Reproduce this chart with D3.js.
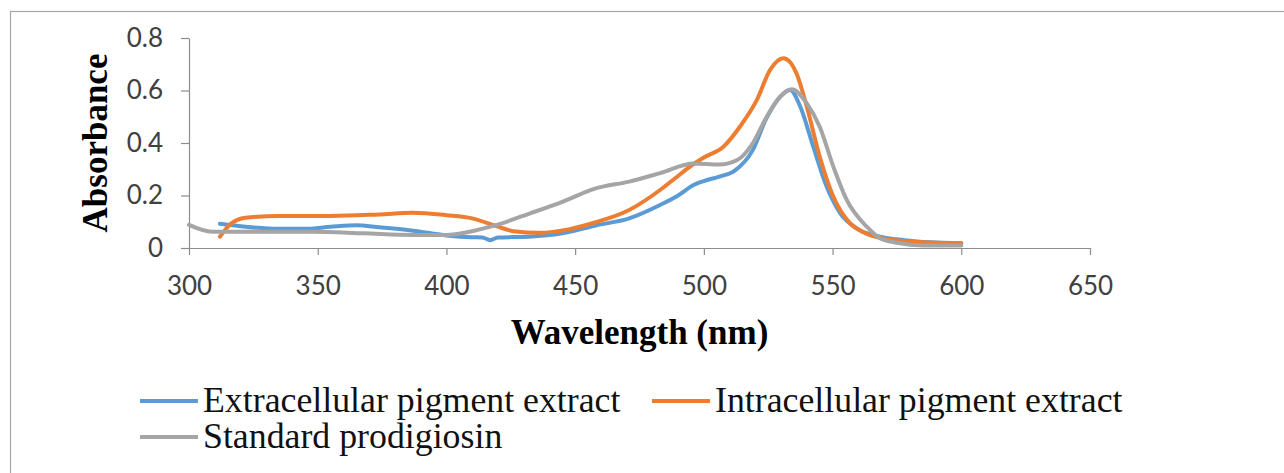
<!DOCTYPE html>
<html>
<head>
<meta charset="utf-8">
<script src="https://cdn.jsdelivr.net/npm/d3@7"></script>
<style>
  html, body { margin: 0; padding: 0; background: #fff; }
  svg { display: block; }
</style>
</head>
<body>
<svg id="chart"></svg>
<script>
/* -----------------------------------------------------------
   DATA
----------------------------------------------------------- */
const xTicks = [300, 350, 400, 450, 500, 550, 600, 650];
const yTicks = [0, 0.2, 0.4, 0.6, 0.8];

const extWl = [312, 322, 335, 345, 355, 365, 374, 387, 400, 410, 414, 417, 420, 432, 445, 458, 471, 483, 490, 496, 500, 506, 512, 519, 524, 529.6, 533.5, 537.4, 542.5, 547.7, 553, 559.4, 568.4, 578, 588, 600];
const extAbs = [0.092, 0.081, 0.073, 0.073, 0.081, 0.087, 0.079, 0.066, 0.048, 0.041, 0.040, 0.030, 0.040, 0.043, 0.056, 0.086, 0.113, 0.164, 0.2, 0.24, 0.255, 0.272, 0.295, 0.373, 0.488, 0.576, 0.602, 0.54, 0.386, 0.234, 0.132, 0.075, 0.043, 0.03, 0.022, 0.018];

const intWl = [312, 316, 322, 335, 355, 374, 387, 400, 410, 419.5, 426, 436, 448, 458, 471, 483, 488, 496, 500, 507.6, 514, 520.6, 525.7, 530.9, 536, 540, 545, 550.3, 556.8, 562, 570, 580, 590, 600];
const intAbs = [0.043, 0.09, 0.115, 0.122, 0.122, 0.128, 0.134, 0.125, 0.113, 0.083, 0.064, 0.058, 0.072, 0.098, 0.145, 0.221, 0.259, 0.32, 0.345, 0.386, 0.462, 0.564, 0.678, 0.723, 0.665, 0.538, 0.348, 0.195, 0.094, 0.06, 0.035, 0.025, 0.02, 0.018];

const stdWl = [300, 309, 322, 348, 368, 387, 400, 409, 419.5, 432.5, 445, 458, 471, 483, 496, 506, 513, 519, 524.4, 529.6, 534.1, 540, 545, 550.3, 555.5, 563.3, 568.4, 575, 585, 600];
const stdAbs = [0.088, 0.062, 0.062, 0.062, 0.056, 0.05, 0.05, 0.062, 0.088, 0.132, 0.176, 0.227, 0.253, 0.285, 0.322, 0.318, 0.335, 0.399, 0.5, 0.576, 0.605, 0.551, 0.462, 0.31, 0.183, 0.081, 0.037, 0.02, 0.01, 0.01];

const seriesNames = ["Extracellular pigment extract", "Intracellular pigment extract", "Standard prodigiosin"];
const seriesColors = ["#5B9BD5", "#ED7D31", "#A5A5A5"];

/* -----------------------------------------------------------
   SETUP
----------------------------------------------------------- */
const W = 1284, H = 473;
const plot = { left: 189, right: 1090, top: 38, bottom: 248 };

const svg = d3.select("#chart").attr("width", W).attr("height", H);

svg.append("rect")
  .attr("x", 10.5).attr("y", 11.5)
  .attr("width", W + 20).attr("height", H + 20)
  .attr("fill", "#fff")
  .attr("stroke", "#a6a6a6")
  .attr("stroke-width", 1.2);

const x = d3.scaleLinear().domain([300, 650]).range([plot.left, plot.right]);
const y = d3.scaleLinear().domain([0, 0.8]).range([plot.bottom, plot.top]);

const tickFont = "Lato, 'Open Sans', sans-serif";
const serif = "'Liberation Serif', 'Times New Roman', serif";

/* -----------------------------------------------------------
   AXES
----------------------------------------------------------- */
const xAxis = svg.append("g")
  .attr("transform", `translate(0,${plot.bottom})`)
  .call(d3.axisBottom(x).tickValues(xTicks).tickSize(7).tickSizeOuter(0).tickPadding(22).tickFormat(d3.format("d")));

const yAxis = svg.append("g")
  .attr("transform", `translate(${plot.left},0)`)
  .call(d3.axisLeft(y).tickValues(yTicks).tickSize(8).tickSizeOuter(0).tickPadding(18)
    .tickFormat((d) => (d === 0 ? "0" : d3.format(".1f")(d))));

[xAxis, yAxis].forEach((g) => {
  g.select(".domain").attr("stroke", "#8c8c8c").attr("stroke-width", 1.2);
  g.selectAll(".tick line").attr("stroke", "#8c8c8c").attr("stroke-width", 1.2);
  g.selectAll(".tick text")
    .attr("fill", "#404040")
    .style("font-family", tickFont)
    .style("font-size", "26px");
});

/* -----------------------------------------------------------
   LINES
----------------------------------------------------------- */
const series = [
  { wl: extWl, abs: extAbs },
  { wl: intWl, abs: intAbs },
  { wl: stdWl, abs: stdAbs }
];

const line = d3.line()
  .x((d) => x(d[0]))
  .y((d) => y(d[1]))
  .curve(d3.curveMonotoneX);

// draw order: blue, orange, gray on top
series.forEach((s, i) => {
  const pts = s.wl.map((w, k) => [w, s.abs[k]]);
  svg.append("path")
    .datum(pts)
    .attr("d", line)
    .attr("fill", "none")
    .attr("stroke", seriesColors[i])
    .attr("stroke-width", 4)
    .attr("stroke-linejoin", "round")
    .attr("stroke-linecap", "round");
});

/* -----------------------------------------------------------
   AXIS TITLES
----------------------------------------------------------- */
svg.append("text")
  .attr("x", (plot.left + plot.right) / 2)
  .attr("y", 344)
  .attr("text-anchor", "middle")
  .style("font-family", serif)
  .style("font-weight", "bold")
  .style("font-size", "35px")
  .text("Wavelength (nm)");

svg.append("text")
  .attr("transform", `translate(107,${(plot.top + plot.bottom) / 2}) rotate(-90)`)
  .attr("text-anchor", "middle")
  .style("font-family", serif)
  .style("font-weight", "bold")
  .style("font-size", "35px")
  .text("Absorbance");

/* -----------------------------------------------------------
   LEGEND
----------------------------------------------------------- */
const legendItems = [
  { x: 140, y: 401 },
  { x: 652, y: 401 },
  { x: 140, y: 437 }
];

legendItems.forEach((p, i) => {
  const g = svg.append("g").attr("transform", `translate(${p.x},${p.y})`);
  g.append("line")
    .attr("x1", 0).attr("x2", 58)
    .attr("stroke", seriesColors[i])
    .attr("stroke-width", 4);
  g.append("text")
    .attr("x", 63)
    .attr("y", 11)
    .style("font-family", serif)
    .style("font-size", "35.8px")
    .attr("fill", "#111")
    .text(seriesNames[i]);
});
</script>
</body>
</html>
